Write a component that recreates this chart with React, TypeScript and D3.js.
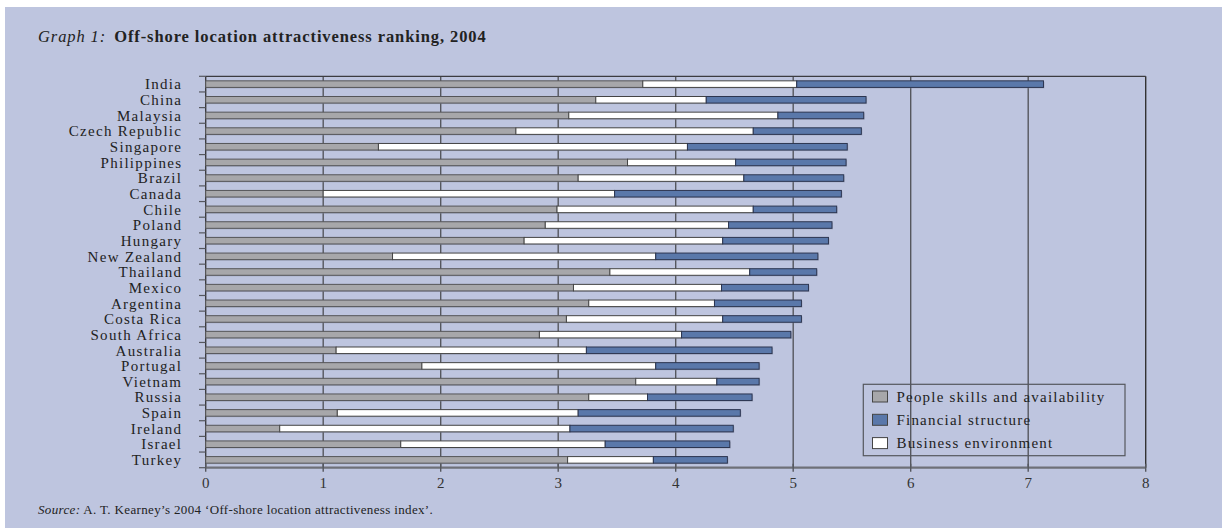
import React, { useEffect } from 'react';
import * as d3 from 'd3';

const categories = ['India', 'China', 'Malaysia', 'Czech Republic', 'Singapore', 'Philippines', 'Brazil', 'Canada', 'Chile', 'Poland', 'Hungary', 'New Zealand', 'Thailand', 'Mexico', 'Argentina', 'Costa Rica', 'South Africa', 'Australia', 'Portugal', 'Vietnam', 'Russia', 'Spain', 'Ireland', 'Israel', 'Turkey'];
const peopleSkills = [3.72, 3.32, 3.09, 2.64, 1.47, 3.59, 3.17, 1.0, 2.99, 2.89, 2.71, 1.59, 3.44, 3.13, 3.26, 3.07, 2.84, 1.11, 1.84, 3.66, 3.26, 1.12, 0.63, 1.66, 3.08];
const businessEnvironment = [1.31, 0.94, 1.78, 2.02, 2.63, 0.92, 1.41, 2.48, 1.67, 1.56, 1.69, 2.24, 1.19, 1.26, 1.07, 1.33, 1.21, 2.13, 1.99, 0.69, 0.5, 2.05, 2.47, 1.74, 0.73];
const financialStructure = [2.1, 1.36, 0.73, 0.92, 1.36, 0.94, 0.85, 1.93, 0.71, 0.88, 0.9, 1.38, 0.57, 0.74, 0.74, 0.67, 0.93, 1.58, 0.88, 0.36, 0.89, 1.38, 1.39, 1.06, 0.63];
const xTicks = [0, 1, 2, 3, 4, 5, 6, 7, 8];
const seriesKeys = ['people', 'business', 'financial'];
const legendLabels = ['People skills and availability', 'Financial structure', 'Business environment'];
const legendKeys = ['people', 'financial', 'business'];

const FILL: Record<string, string> = { people: '#a7a7aa', business: '#ffffff', financial: '#5a78aa' };
const STROKE: Record<string, string> = { people: '#555558', business: '#444', financial: '#2c3550' };
const BG = '#bec5df';
const SERIF = '"Liberation Serif", "Times New Roman", serif';

export default function App() {
  useEffect(() => {
    document.body.style.margin = '0';
  }, []);

  const W = 1222, H = 529;
  const x = d3.scaleLinear().domain([0, 8]).range([205.7, 1145.7]);
  const y = d3.scaleBand<string>().domain(categories).range([76.3, 467.7]).paddingInner(0.58).paddingOuter(0.29);
  const rows = categories.map((c, i) => ({ cat: c, people: peopleSkills[i], business: businessEnvironment[i], financial: financialStructure[i] }));
  const stacked = d3.stack<any>().keys(seriesKeys)(rows);
  const [top, bottom] = y.range();
  const step = y.step();
  const bh = y.bandwidth();
  const boundaries = d3.range(categories.length + 1).map((i) => top + i * step);

  return (
    <svg width={W} height={H} style={{ display: 'block', position: 'absolute', left: 0, top: 0 }} fontFamily={SERIF}>
      <rect x={0} y={0} width={W} height={H} fill="#ffffff" />
      <rect x={5} y={7} width={W - 5} height={521} fill={BG} />

      <text x={38} y={42} fontSize={16.5} fill="#222" letterSpacing={0.9}>
        <tspan fontStyle="italic">Graph 1:</tspan>
        <tspan dx={8} fontWeight="bold">Off-shore location attractiveness ranking, 2004</tspan>
      </text>

      {/* gridlines */}
      {xTicks.slice(1).map((t) => (
        <line key={'g' + t} x1={x(t)} x2={x(t)} y1={top} y2={bottom} stroke={t === 8 ? '#333' : '#55575e'} strokeWidth={1.4} />
      ))}
      <line x1={x(0)} x2={x(8)} y1={top} y2={top} stroke="#3c3c40" strokeWidth={1.2} />
      <line x1={x(0)} x2={x(0)} y1={top} y2={bottom} stroke="#3c3c40" strokeWidth={1.4} />

      {/* y tick marks */}
      {boundaries.map((b, i) => (
        <line key={'yt' + i} x1={199} x2={x(0)} y1={b} y2={b} stroke="#55575e" strokeWidth={1.2} />
      ))}

      {/* bar shadows */}
      {rows.map((r, i) => (
        <rect key={'sh' + i} x={x(0) + 1} y={(y(r.cat) as number) + 1} width={x(stacked[2][i][1]) - x(0)} height={bh} fill="#8d93ac" opacity={0.55} />
      ))}

      {/* bars */}
      {stacked.map((s) => (
        <g key={s.key}>
          {s.map((d, i) => (
            <rect
              key={i}
              x={x(d[0])}
              y={y(categories[i]) as number}
              width={x(d[1]) - x(d[0])}
              height={bh}
              fill={FILL[s.key]}
              stroke={STROKE[s.key]}
              strokeWidth={1}
            />
          ))}
        </g>
      ))}

      {/* x axis */}
      <line x1={x(0)} x2={x(8)} y1={bottom} y2={bottom} stroke="#6e7078" strokeWidth={2.2} />
      {xTicks.map((t) => (
        <g key={'xt' + t}>
          <line x1={x(t)} x2={x(t)} y1={bottom - 4} y2={bottom + 4} stroke="#55575e" strokeWidth={1.4} />
          <text x={x(t)} y={bottom + 20} fontSize={15} textAnchor="middle" fill="#333">{t}</text>
        </g>
      ))}

      {/* category labels */}
      {categories.map((c) => (
        <text key={c} x={182.3} y={(y(c) as number) + bh / 2} dy="0.35em" fontSize={15} letterSpacing={1.3} textAnchor="end" fill="#222">{c}</text>
      ))}

      {/* legend */}
      <g>
        <rect x={863.3} y={384.3} width={261.7} height={71.4} fill="none" stroke="#55575e" strokeWidth={1.2} />
        {legendKeys.map((k, i) => (
          <g key={k} transform={`translate(872.5, ${391 + i * 23.3})`}>
            <rect x={0} y={0} width={15} height={11} fill={FILL[k]} stroke="#444" strokeWidth={1} />
            <text x={24} y={5.5} dy="0.35em" fontSize={15} letterSpacing={1.2} fill="#222">{legendLabels[i]}</text>
          </g>
        ))}
      </g>

      <text x={38} y={514} fontSize={13} letterSpacing={0.35} fill="#222">
        <tspan fontStyle="italic">Source:</tspan>
        <tspan> A. T. Kearney’s 2004 ‘Off-shore location attractiveness index’.</tspan>
      </text>
    </svg>
  );
}
